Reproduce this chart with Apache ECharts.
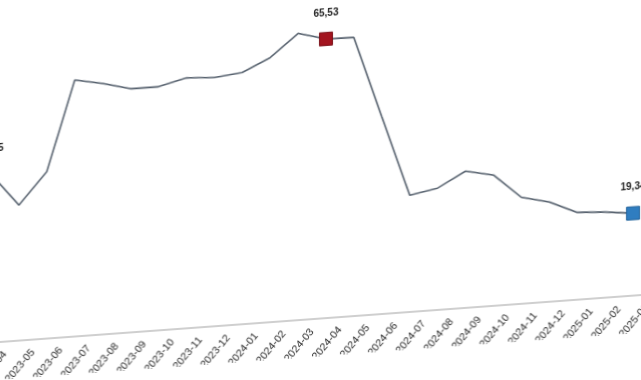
<!DOCTYPE html>
<html>
<head>
<meta charset="utf-8">
<script src="https://cdn.jsdelivr.net/npm/echarts@6/dist/echarts.min.js"></script>
<style>
  html, body { margin: 0; padding: 0; width: 641px; height: 380px; overflow: hidden; background: #ffffff; }
  #wrap { position: absolute; left: 0; top: 0; width: 641px; height: 380px; overflow: hidden; }
  #chart { position: absolute; left: -60px; top: 0; width: 760px; height: 380px;
           transform-origin: 60px 342px; transform: skewY(-4.19deg); }
</style>
</head>
<body>
<div id="wrap"><div id="chart"></div></div>
<script>
// Categories (months) and series values
const months = ['2023-04','2023-05','2023-06','2023-07','2023-08','2023-09','2023-10','2023-11','2023-12',
                '2024-01','2024-02','2024-03','2024-04','2024-05','2024-06','2024-07','2024-08','2024-09',
                '2024-10','2024-11','2024-12','2025-01','2025-02','2025-03'];
const values = [39.55, 31.8, 39.2, 60.2, 58.9, 57.2, 57.2, 58.8, 58.4,
                59.1, 62.1, 67.3, 65.53, 65.4, 46.3, 27.4, 28.6, 32.1,
                30.7, 25.0, 23.4, 20.5, 20.1, 19.34];
// Highlighted, labelled points
const firstPoint = '2023-04';
const redPoint = '2024-04';
const bluePoint = '2025-03';

const fmt = v => v.toFixed(2).replace('.', ',');

const labelStyle = { show: true, position: 'top', distance: 14, fontSize: 10, fontWeight: 'bold',
  color: '#222', fontFamily: 'Liberation Sans, Arial, sans-serif', formatter: p => fmt(p.value) };

const seriesData = values.map((v, i) => {
  const m = months[i];
  if (m === redPoint) return { value: v, symbol: 'rect', symbolSize: 13,
    itemStyle: { color: '#a3141f', borderColor: '#7a0d15', borderWidth: 1 }, label: labelStyle };
  if (m === bluePoint) return { value: v, symbol: 'rect', symbolSize: 13,
    itemStyle: { color: '#2f7dc0', borderColor: '#22639c', borderWidth: 1 }, label: labelStyle };
  if (m === firstPoint) return { value: v, symbol: 'rect', symbolSize: 13,
    itemStyle: { color: '#7f7f7f' }, label: labelStyle };
  return { value: v };
});

const chart = echarts.init(document.getElementById('chart'), null, { renderer: 'canvas' });
chart.setOption({
  animation: false,
  backgroundColor: '#ffffff',
  grid: [
    { left: 51, right: 67, top: 22.5, bottom: 38, containLabel: false, outerBoundsMode: 'none' },
    { left: 65, right: 53, top: 22.5, bottom: 38, containLabel: false, outerBoundsMode: 'none' },
    { left: 0, right: 0, top: 22.5, bottom: 38, containLabel: false, outerBoundsMode: 'none' }
  ],
  xAxis: [
    { type: 'category', gridIndex: 0, data: months, boundaryGap: false,
      axisLine: { show: false }, axisTick: { show: false }, axisLabel: { show: false }, splitLine: { show: false } },
    { type: 'category', gridIndex: 1, data: months, boundaryGap: false,
      axisLine: { show: false }, axisTick: { show: false }, splitLine: { show: false },
      axisLabel: { show: true, interval: 0, rotate: 48, margin: 11, fontSize: 10.5,
        color: '#2a2a2a', fontFamily: 'Liberation Sans, Arial, sans-serif' } },
    { type: 'category', gridIndex: 2, data: months, boundaryGap: false,
      axisLine: { show: true, lineStyle: { color: '#cfcfcf', width: 2 } },
      axisTick: { show: false }, axisLabel: { show: false }, splitLine: { show: false } }
  ],
  yAxis: [
    { type: 'value', gridIndex: 0, min: 0, max: 75, show: false, splitLine: { show: false } },
    { type: 'value', gridIndex: 1, min: 0, max: 75, show: false, splitLine: { show: false } },
    { type: 'value', gridIndex: 2, min: 0, max: 75, show: false, splitLine: { show: false } }
  ],
  series: [{
    type: 'line', xAxisIndex: 0, yAxisIndex: 0, data: seriesData,
    symbol: 'none', showSymbol: true, clip: false,
    lineStyle: { color: '#56616e', width: 1.6 },
    itemStyle: { color: '#56616e' },
    emphasis: { disabled: true }
  }]
});
</script>
</body>
</html>
